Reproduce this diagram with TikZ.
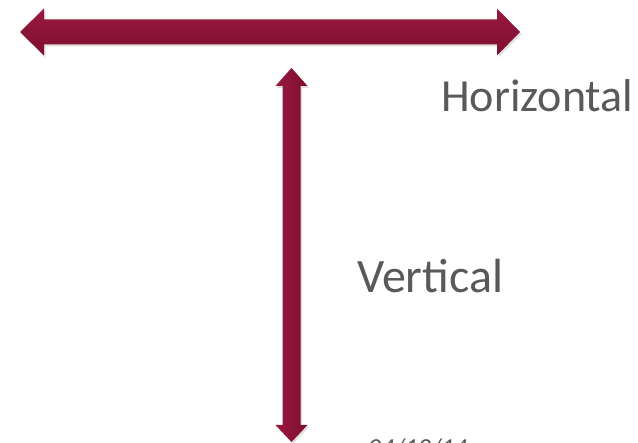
\documentclass[tikz,border=0pt]{standalone}
\usepackage{fontspec}
\setmainfont{Carlito}
\usetikzlibrary{shadows}
\definecolor{maroonTop}{RGB}{154,24,64}
\definecolor{maroonBot}{RGB}{124,15,47}
\definecolor{txtgrey}{RGB}{89,89,89}
\tikzset{
  arrowshape/.style={draw=none,
    drop shadow={shadow xshift=1.5pt, shadow yshift=-2pt, opacity=0.25}},
  hshade/.style={top color=maroonTop, bottom color=maroonBot},
  vshade/.style={left color=maroonTop, right color=maroonBot},
  label/.style={text=txtgrey, inner sep=0pt, anchor=base west, font=\fontsize{46}{50}\selectfont}
}
\begin{document}
\begin{tikzpicture}[x=1pt,y=-1pt]
\useasboundingbox (0,0) rectangle (638,443);
\clip (0,0) rectangle (638,443);
% horizontal double arrow
\path[arrowshape,hshade] (20,32) -- (44,8.5) -- (44,19.5) -- (497,19.5) -- (497,8.5) -- (520,32)
  -- (497,55.5) -- (497,44.5) -- (44,44.5) -- (44,55.5) -- cycle;
% vertical double arrow
\path[arrowshape,vshade] (291.5,68) -- (307.5,86) -- (300.5,86) -- (300.5,425) -- (307.5,425) -- (291.5,442)
  -- (275.5,425) -- (282.5,425) -- (282.5,86) -- (275.5,86) -- cycle;
\node[label] (horiz) at (441,112) {Horizontal};
\node[label,font=\fontsize{48}{52}\selectfont] (vert) at (357,293) {Vertical};
\node[text=txtgrey, inner sep=0pt, anchor=north west, font=\fontsize{26}{28}\selectfont\itshape] (date) at (368,438.5) {04/12/14};
\end{tikzpicture}
\end{document}
